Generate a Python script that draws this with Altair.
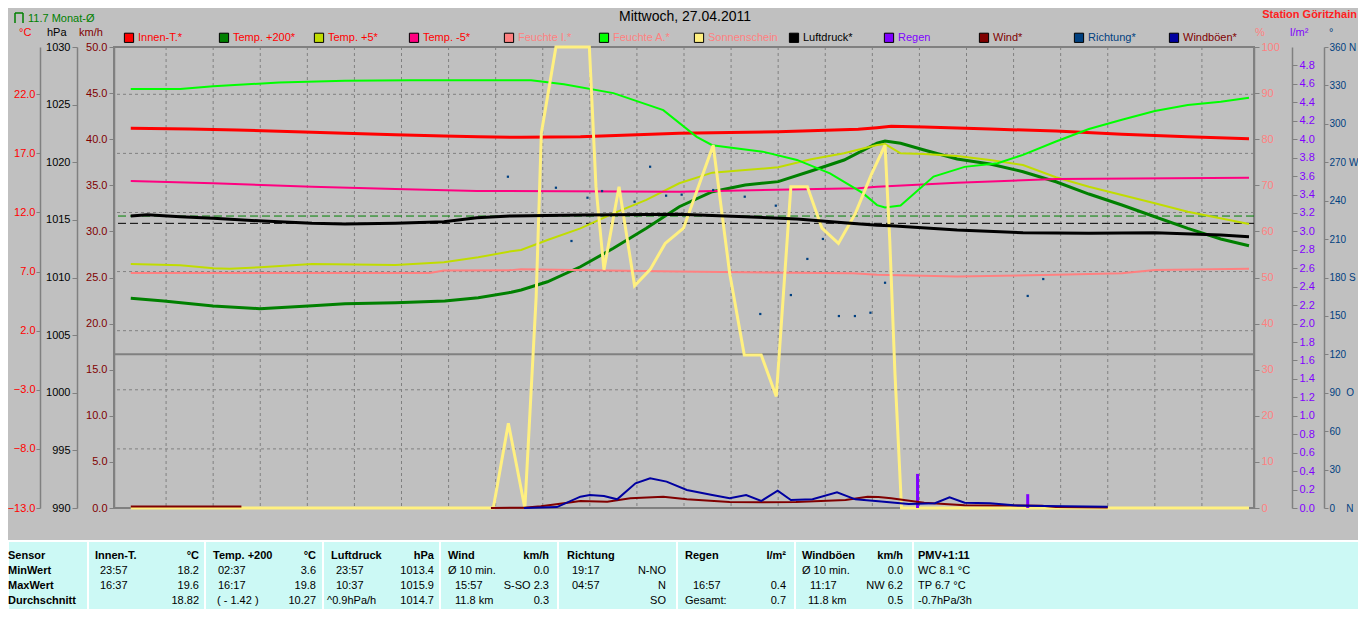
import altair as alt
import pandas as pd

# ---------------- data ----------------
innen_h = [0.25, 1.5, 2.5, 4.1, 4.8, 5.87, 6.9, 7.63, 8.54, 9.8, 11.9, 14.0, 15.7, 16.1, 16.4, 17.1, 18.5, 19.9, 21.3, 22.7, 24.0]
innen_t = [19.12, 19.06, 18.98, 18.79, 18.70, 18.58, 18.47, 18.41, 18.36, 18.41, 18.70, 18.83, 19.04, 19.17, 19.29, 19.23, 19.06, 18.89, 18.61, 18.41, 18.24]

t200_h = [0.25, 0.95, 2.0, 2.99, 4.11, 4.8, 5.87, 6.92, 7.63, 8.33, 8.54, 9.1, 9.8, 10.5, 11.2, 11.9, 12.6, 13.3, 14.0, 14.7, 15.4, 16.1, 16.27, 16.6, 17.1, 17.8, 18.5, 19.2, 19.9, 20.6, 21.3, 22.0, 22.7, 23.4, 24.0]
t200_t = [4.74, 4.51, 4.09, 3.86, 4.11, 4.28, 4.37, 4.51, 4.79, 5.25, 5.44, 6.14, 7.41, 8.97, 10.66, 12.49, 13.76, 14.33, 14.61, 15.51, 16.44, 17.86, 18.05, 17.86, 17.29, 16.52, 16.10, 15.45, 14.60, 13.56, 12.63, 11.64, 10.66, 9.76, 9.19]

t5_h = [0.25, 1.3, 2.0, 2.35, 3.0, 4.1, 5.87, 6.9, 7.63, 8.33, 8.54, 9.1, 9.8, 10.5, 11.2, 11.9, 12.6, 13.3, 14.0, 14.7, 15.4, 16.1, 16.27, 16.6, 17.1, 17.8, 18.5, 19.2, 19.9, 20.6, 21.3, 22.0, 22.7, 24.0]
t5_t = [7.64, 7.53, 7.28, 7.24, 7.36, 7.64, 7.56, 7.79, 8.21, 8.72, 8.83, 9.67, 10.66, 11.93, 13.06, 14.47, 15.37, 15.59, 15.82, 16.50, 17.01, 17.71, 17.79, 17.01, 16.95, 16.78, 16.44, 16.02, 14.98, 14.18, 13.48, 12.78, 12.07, 11.03]

tm5_h = [0.25, 2.0, 4.1, 5.87, 7.6, 11.9, 15.7, 16.1, 17.8, 19.9, 24.0]
tm5_t = [14.66, 14.47, 14.18, 13.99, 13.82, 13.76, 14.05, 14.18, 14.52, 14.83, 14.94]

fi_h = [0.25, 6.6, 6.9, 8.33, 8.54, 11.9, 15.6, 16.1, 17.8, 19.9, 21.3, 22.0, 24.0]
fi_p = [51.0, 51.0, 51.5, 51.6, 51.8, 51.3, 50.9, 50.6, 50.2, 50.6, 50.9, 51.6, 51.9]

fa_h = [0.25, 1.3, 2.0, 3.4, 4.8, 6.2, 8.75, 9.45, 10.5, 11.56, 12.27, 12.6, 13.67, 14.4, 15.1, 15.8, 16.1, 16.27, 16.6, 17.3, 17.96, 18.66, 19.2, 19.9, 20.6, 21.3, 22.0, 22.7, 23.4, 24.0]
fa_p = [90.9, 90.9, 91.5, 92.3, 92.7, 92.8, 92.8, 91.9, 90.0, 86.3, 80.5, 78.7, 77.3, 75.5, 72.6, 68.3, 65.7, 65.2, 65.6, 71.9, 74.0, 74.8, 76.6, 79.5, 82.2, 84.2, 86.1, 87.4, 88.1, 89.0]

sun_h = [0.25, 7.95, 8.27, 8.62, 8.86, 8.97, 9.28, 9.99, 10.13, 10.30, 10.62, 10.95, 11.28, 11.6, 11.99, 12.62, 12.97, 13.28, 13.64, 13.96, 14.27, 14.62, 14.93, 15.28, 15.64, 15.99, 16.27, 16.37, 16.48, 16.62, 24.0]
sun_p = [0, 0, 18.4, 0, 45.8, 81.3, 100, 100, 69.7, 51.7, 69.7, 48.2, 51.7, 57.4, 60.7, 78.7, 50.9, 33.2, 33.2, 24.2, 69.7, 69.7, 60.7, 57.4, 63.9, 72.6, 78.7, 58.1, 29.3, 0, 0]

luft_h = [0.25, 0.6, 1.3, 2.0, 3.06, 4.1, 4.8, 5.87, 6.9, 7.6, 8.33, 9.8, 11.9, 13.3, 14.4, 15.4, 16.1, 16.4, 17.8, 19.2, 20.6, 22.0, 23.4, 24.0]
luft_p = [1015.34, 1015.45, 1015.28, 1015.14, 1014.90, 1014.70, 1014.64, 1014.70, 1014.84, 1015.19, 1015.34, 1015.42, 1015.48, 1015.28, 1015.08, 1014.76, 1014.53, 1014.50, 1014.12, 1013.89, 1013.84, 1013.89, 1013.69, 1013.54]

regen_h = [16.96, 19.3]
regen_l = [0.37, 0.15]

wind_h = [0.25, 2.6, 7.9, 8.6, 8.96, 9.45, 9.8, 10.37, 10.86, 11.56, 12.06, 12.97, 13.67, 14.38, 15.43, 15.9, 16.13, 16.4, 17.1, 17.96, 19.6, 19.9, 21.0]
wind_k = [0.15, 0.15, 0.0, 0.03, 0.2, 0.51, 0.76, 0.69, 1.05, 1.23, 0.94, 0.65, 0.62, 0.65, 0.87, 1.23, 1.2, 1.05, 0.58, 0.29, 0.25, 0.1, 0.05]
wind_seg = [1, 1, 2, 2, 2, 2, 2, 2, 2, 2, 2, 2, 2, 2, 2, 2, 2, 2, 2, 2, 2, 2, 2]

dir_h = [8.26, 9.28, 9.61, 9.95, 10.26, 10.95, 11.28, 11.62, 11.95, 12.62, 13.29, 13.62, 13.95, 14.27, 14.62, 14.95, 15.29, 15.63, 15.96, 16.27, 19.3, 19.63]
dir_d = [258.7, 250.1, 208.5, 242.3, 247.5, 239.2, 266.5, 243.9, 244.7, 248.3, 243.1, 151.5, 236.1, 166.3, 194.5, 210.1, 149.9, 149.9, 152.5, 175.9, 165.6, 178.8]

boe_h = [8.6, 9.3, 9.8, 10.0, 10.3, 10.58, 10.97, 11.28, 11.63, 12.06, 12.6, 12.97, 13.32, 13.64, 13.99, 14.27, 14.73, 15.25, 15.64, 16.13, 16.77, 17.33, 17.64, 17.96, 18.5, 19.0, 19.65, 21.0]
boe_k = [0.0, 0.1, 1.23, 1.41, 1.3, 0.94, 2.68, 3.22, 2.86, 1.96, 1.41, 1.05, 1.41, 0.76, 1.88, 0.87, 0.94, 1.7, 0.94, 0.72, 0.43, 0.51, 1.16, 0.58, 0.51, 0.29, 0.22, 0.14]

monat_avg = 11.7
luft_avg = 1014.7
hours = list(range(0, 25))
c_ticks = [-13, -8, -3, 2, 7, 12, 17, 22]
hpa_ticks = list(range(990, 1031, 5))
kmh_ticks = [i * 5 for i in range(11)]
pct_ticks = [i * 10 for i in range(11)]
rain_ticks = [round(i * 0.2, 1) for i in range(25)]
deg_ticks = [i * 30 for i in range(13)]

title_text = "Mittwoch, 27.04.2011"
station_text = "Station Göritzhain"

leg_names = ["Innen-T.*", "Temp. +200*", "Temp. +5*", "Temp. -5*", "Feuchte I.*", "Feuchte A.*",
             "Sonnenschein", "Luftdruck*", "Regen", "Wind*", "Richtung*", "Windböen*"]

tab_head = ["Sensor", "Innen-T.", "Temp. +200", "Luftdruck", "Wind", "Richtung", "Regen", "Windböen", "PMV+1:11"]
tab_unit = ["", "°C", "°C", "hPa", "km/h", "", "l/m²", "km/h", ""]
tab_rows = ["MinWert", "MaxWert", "Durchschnitt"]
tab_left = [
    ["23:57", "16:37", ""],
    ["02:37", "16:17", "( - 1.42 )"],
    ["23:57", "10:37", "^0.9hPa/h"],
    ["Ø 10 min.", "15:57", "11.8 km"],
    ["19:17", "04:57", ""],
    ["", "16:57", "Gesamt:"],
    ["Ø 10 min.", "11:17", "11.8 km"],
    ["WC 8.1 °C", "TP 6.7 °C", "-0.7hPa/3h"],
]
tab_right = [
    ["18.2", "19.6", "18.82"],
    ["3.6", "19.8", "10.27"],
    ["1013.4", "1015.9", "1014.7"],
    ["0.0", "S-SO 2.3", "0.3"],
    ["N-NO", "N", "SO"],
    ["", "0.4", "0.7"],
    ["0.0", "NW 6.2", "0.5"],
    ["", "", ""],
]

# ---------------- styles & layout ----------------
FONT = "Liberation Sans"
GRAY = "#808080"
BG = "#C0C0C0"
C_INNEN, C_T200, C_T5, C_TM5 = "#FF0000", "#008000", "#C0DC00", "#FF0080"
C_FI, C_FA, C_SUN, C_LUFT = "#FF8080", "#00FF00", "#FFF080", "#000000"
C_RAIN, C_WIND, C_DIR, C_BOE = "#8000FF", "#800000", "#004080", "#0000A0"
leg_fill = [C_INNEN, C_T200, C_T5, C_TM5, C_FI, C_FA, C_SUN, C_LUFT, C_RAIN, C_WIND, C_DIR, C_BOE]
leg_tcol = ["#FF0000", "#FF0000", "#FF0000", "#FF0000", "#FF8080", "#FF8080", "#FF8080", "#000000",
            "#8000FF", "#800000", "#004080", "#800000"]

W, H = 1140, 461
X0, Y0 = 114, 47   # page position of the plot origin


def px(x):
    return x - X0


def py(y):
    return y - Y0


xscale = alt.Scale(domain=[0, 24], nice=False, zero=False)
X_AX = alt.X("h:Q", scale=xscale, title=None, axis=alt.Axis(
    values=hours, labelExpr="(datum.value < 10 ? '0' : '') + datum.value + ':00'",
    grid=False, domain=False, tickColor=GRAY, tickSize=4, labelPadding=2,
    labelColor="#000000", labelFont=FONT, labelFontSize=11, labelOverlap=False))
X_NO = alt.X("h:Q", scale=xscale, axis=None)

SC_C = alt.Scale(domain=[-13, 26], nice=False, zero=False)
SC_P = alt.Scale(domain=[990, 1030], nice=False, zero=False)
SC_K = alt.Scale(domain=[0, 50], nice=False)
SC_H = alt.Scale(domain=[0, 100], nice=False)
SC_R = alt.Scale(domain=[0, 5], nice=False)
SC_D = alt.Scale(domain=[0, 360], nice=False)


def yaxis(orient, offset, values, color, fmt=None, expr=None, size=11, tick=5, pad=2):
    kw = dict(orient=orient, offset=offset, values=values, labelColor=color, title=None, grid=False,
              domainColor=GRAY, domainWidth=1.5, tickColor=GRAY, tickSize=tick, labelPadding=pad,
              labelFont=FONT, labelFontSize=size, labelOverlap=False)
    if fmt:
        kw["format"] = fmt
    if expr:
        kw["labelExpr"] = expr
    return alt.Axis(**kw)


NB = "\u00a0"
deg_expr = ("datum.value == 360 ? '360" + NB + "N' : datum.value == 270 ? '270" + NB + "W' : "
            "datum.value == 180 ? '180" + NB + "S' : datum.value == 90 ? '90" + NB * 2 + "O' : "
            "datum.value == 0 ? '0" + NB * 4 + "N' : datum.label")

layers = []

# grid
layers.append(alt.Chart(pd.DataFrame({"h": hours[1:-1]})).mark_rule(
    color=GRAY, strokeDash=[3, 3], strokeWidth=1).encode(x=X_AX))
layers.append(alt.Chart(pd.DataFrame({"v": c_ticks[1:]})).mark_rule(
    color=GRAY, strokeDash=[3, 3], strokeWidth=1).encode(y=alt.Y("v:Q", scale=SC_C, axis=None)))
layers.append(alt.Chart(pd.DataFrame({"v": [0]})).mark_rule(
    color=GRAY, strokeWidth=2).encode(y=alt.Y("v:Q", scale=SC_C, axis=None)))
# reference averages
layers.append(alt.Chart(pd.DataFrame({"v": [monat_avg]})).mark_rule(
    color="#008000", strokeDash=[8, 4], strokeWidth=1).encode(y=alt.Y("v:Q", scale=SC_C, axis=None)))
layers.append(alt.Chart(pd.DataFrame({"v": [luft_avg]})).mark_rule(
    color="#000000", strokeDash=[8, 4], strokeWidth=1).encode(y=alt.Y("v:Q", scale=SC_P, axis=None)))


def line(h, v, scale, color, width, axis=None):
    df = pd.DataFrame({"h": h, "v": v})
    return alt.Chart(df).mark_line(color=color, strokeWidth=width, strokeJoin="miter").encode(
        x=X_NO, y=alt.Y("v:Q", scale=scale, axis=axis))


layers.append(line(innen_h, innen_t, SC_C, C_INNEN, 3,
                   yaxis("left", 74, c_ticks, "#FF0000", fmt=".1f", tick=4, pad=1)))
layers.append(line(t200_h, t200_t, SC_C, C_T200, 3))
layers.append(line(t5_h, t5_t, SC_C, C_T5, 2))
layers.append(line(tm5_h, tm5_t, SC_C, C_TM5, 2))
layers.append(line(fi_h, fi_p, SC_H, C_FI, 2, yaxis("right", 0, pct_ticks, "#FF8080", fmt="d")))
layers.append(line(fa_h, fa_p, SC_H, C_FA, 2))
layers.append(line(sun_h, sun_p, SC_H, C_SUN, 3))
layers.append(line(luft_h, luft_p, SC_P, C_LUFT, 3, yaxis("left", 37, hpa_ticks, "#000000", fmt="d")))

layers.append(alt.Chart(pd.DataFrame({"h": regen_h, "v": regen_l})).mark_bar(
    color=C_RAIN, size=3).encode(
    x=X_NO, y=alt.Y("v:Q", scale=SC_R, axis=yaxis("right", 38, rain_ticks, "#8000FF", fmt=".1f"))))

layers.append(alt.Chart(pd.DataFrame({"h": wind_h, "v": wind_k, "seg": wind_seg})).mark_line(
    color=C_WIND, strokeWidth=2).encode(
    x=X_NO, y=alt.Y("v:Q", scale=SC_K, axis=yaxis("left", 0, kmh_ticks, "#800000", fmt=".1f")),
    detail="seg:N"))

layers.append(alt.Chart(pd.DataFrame({"h": dir_h, "v": dir_d})).mark_square(
    color=C_DIR, size=5, opacity=1).encode(
    x=X_NO, y=alt.Y("v:Q", scale=SC_D, axis=yaxis("right", 70, deg_ticks, "#004080", expr=deg_expr,
                                                  size=10, tick=4, pad=1))))

layers.append(line(boe_h, boe_k, SC_K, C_BOE, 2))

# ---------------- texts ----------------
PX = alt.X("x:Q", scale=None, axis=None)
PY = alt.Y("y:Q", scale=None, axis=None)


def texts(df, align="left", size=11, weight="normal", baseline="middle"):
    return alt.Chart(df).mark_text(align=align, baseline=baseline, font=FONT, fontSize=size,
                                   fontWeight=weight).encode(
        x=PX, y=PY, text="t:N", color=alt.Color("c:N", scale=None))


# title and header texts
layers.append(texts(pd.DataFrame({"x": [px(685)], "y": [py(17)], "t": [title_text], "c": ["#000000"]}),
                    align="center", size=14))
layers.append(texts(pd.DataFrame({"x": [px(1357)], "y": [py(15)], "t": [station_text], "c": ["#FF2020"]}),
                    align="right", size=11, weight="bold"))
layers.append(texts(pd.DataFrame({"x": [px(28)], "y": [py(18.5)],
                                  "t": [f"{monat_avg} Monat-Ø"], "c": ["#008000"]})))
# small Monat icon
icon = pd.DataFrame({"x": [px(15), px(15), px(23)], "x2": [px(23), px(15), px(23)],
                     "y": [py(13), py(13), py(13)], "y2": [py(13), py(23), py(23)]})
layers.append(alt.Chart(icon).mark_rule(color="#008000", strokeWidth=1.5).encode(
    x=PX, x2="x2:Q", y=PY, y2="y2:Q"))

units = pd.DataFrame({"x": [px(19), px(47), px(79), px(1255), px(1290), px(1329)],
                      "y": [py(32.5)] * 6,
                      "t": ["°C", "hPa", "km/h", "%", "l/m²", "°"],
                      "c": ["#FF0000", "#000000", "#800000", "#FF8080", "#8000FF", "#004080"]})
layers.append(texts(units))

# legend
leg = pd.DataFrame({"t": leg_names, "f": leg_fill, "c": leg_tcol})
leg["x"] = [px(129 + 95 * i) for i in range(len(leg))]
leg["y"] = py(37.8)
layers.append(alt.Chart(leg).mark_square(size=85, stroke="#000000", strokeWidth=1, opacity=1,
                                         filled=True).encode(
    x=PX, y=PY, fill=alt.Fill("f:N", scale=None)))
leg_t = leg.copy()
leg_t["x"] = leg_t["x"] + 9
layers.append(texts(leg_t))

# ---------------- bottom table ----------------
TAB_TOP, TAB_BOT = 541, 612
layers.append(alt.Chart(pd.DataFrame({"x": [px(8)], "x2": [px(1360)], "y": [py(TAB_TOP)],
                                      "y2": [py(TAB_BOT)]})).mark_rect(
    color="#CCF9F5", stroke="#FFFFFF", strokeWidth=2).encode(x=PX, x2="x2:Q", y=PY, y2="y2:Q"))
seps = [88, 205, 323, 440, 558, 677, 795, 913]
layers.append(alt.Chart(pd.DataFrame({"x": [px(s) for s in seps], "y": [py(TAB_TOP)] * len(seps),
                                      "y2": [py(TAB_BOT)] * len(seps)})).mark_rule(
    color="#FFFFFF", strokeWidth=2).encode(x=PX, y=PY, y2="y2:Q"))

row_y = [556, 571, 586, 601]
head_x = [8, 95, 213, 331, 448, 567, 685, 802, 918]
cell_x = [[100, 100, 100], [218, 218, 217], [336, 336, 327], [448, 455, 455],
          [572, 572, 572], [685, 693, 685], [802, 810, 808], [918, 918, 918]]
right_x = [199, 316, 434, 549, 666, 786, 903, 0]

bold_l = {"x": [], "y": [], "t": [], "c": []}
bold_r = {"x": [], "y": [], "t": [], "c": []}
norm_l = {"x": [], "y": [], "t": [], "c": []}
norm_r = {"x": [], "y": [], "t": [], "c": []}


def add(d, x, y, t):
    if t:
        d["x"].append(px(x))
        d["y"].append(py(y))
        d["t"].append(t)
        d["c"].append("#000000")


for i, t in enumerate(tab_head):
    add(bold_l, head_x[i], row_y[0], t)
for i, t in enumerate(tab_unit):
    if 1 <= i <= 7:
        add(bold_r, right_x[i - 1], row_y[0], t)
for r, t in enumerate(tab_rows):
    add(bold_l, head_x[0], row_y[r + 1], t)
for c in range(8):
    for r in range(3):
        add(norm_l, cell_x[c][r], row_y[r + 1], tab_left[c][r])
        add(norm_r, right_x[c], row_y[r + 1], tab_right[c][r])

layers.append(texts(pd.DataFrame(bold_l), weight="bold"))
layers.append(texts(pd.DataFrame(bold_r), align="right", weight="bold"))
layers.append(texts(pd.DataFrame(norm_l)))
layers.append(texts(pd.DataFrame(norm_r), align="right"))

chart = alt.layer(*layers).resolve_scale(y="independent").properties(
    width=W, height=H,
    padding={"left": 106, "top": 39, "right": 104, "bottom": 101},
    autosize=alt.AutoSizeParams(type="none"),
    background=BG,
).configure_view(stroke=GRAY, strokeWidth=2)

chart.save("out.html", embed_options={"renderer": "svg", "actions": False})
